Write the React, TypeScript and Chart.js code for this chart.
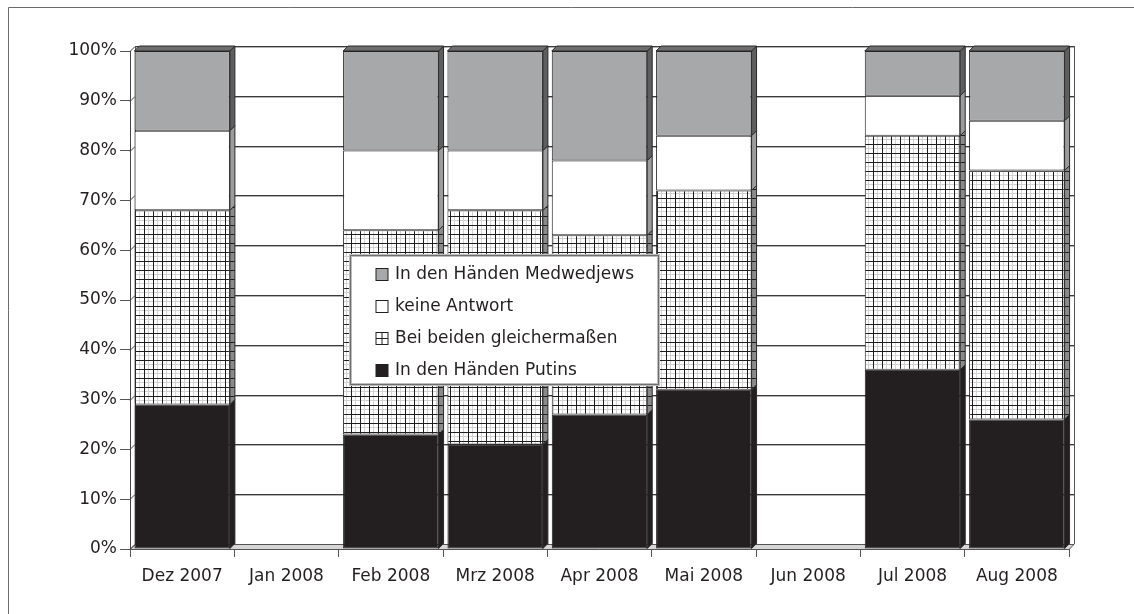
import React, { useEffect, useRef } from 'react';
import { Chart, registerables } from 'chart.js';

Chart.register(...registerables);

const categories = ['Dez 2007', 'Jan 2008', 'Feb 2008', 'Mrz 2008', 'Apr 2008', 'Mai 2008', 'Jun 2008', 'Jul 2008', 'Aug 2008'];
const putinValues = [29, null, 23, 21, 27, 32, null, 36, 26];
const beideValues = [39, null, 41, 47, 36, 40, null, 47, 50];
const keineValues = [16, null, 16, 12, 15, 11, null, 8, 10];
const medwedjewValues = [16, null, 20, 20, 22, 17, null, 9, 14];
const yTickLabels = ['0%', '10%', '20%', '30%', '40%', '50%', '60%', '70%', '80%', '90%', '100%'];
const seriesLabels = ['In den Händen Putins', 'Bei beiden gleichermaßen', 'keine Antwort', 'In den Händen Medwedjews'];

const FONT = "'DejaVu Sans', sans-serif";
const TEXT = '#231f20';
const DX = 5;
const DY = 5;

function makeGridPattern(ctx: CanvasRenderingContext2D, bg: string, light: boolean, vertical: boolean) {
  const t = document.createElement('canvas');
  t.width = 9;
  t.height = 9;
  const c = t.getContext('2d')!;
  c.fillStyle = bg;
  c.fillRect(0, 0, 9, 9);
  if (light) {
    c.fillStyle = '#d2d2d2';
    c.fillRect(4, 0, 1, 9);
    c.fillRect(0, 4, 9, 1);
  }
  c.fillStyle = '#1e1e1e';
  if (vertical) c.fillRect(0, 0, 1, 9);
  c.fillRect(0, 0, 9, 1);
  return ctx.createPattern(t, 'repeat')!;
}

export default function App() {
  const ref = useRef<HTMLCanvasElement>(null);

  useEffect(() => {
    document.body.style.margin = '0';
    document.body.style.overflow = 'hidden';
    const canvas = ref.current!;
    const ctx0 = canvas.getContext('2d')!;
    const gridPattern = makeGridPattern(ctx0, '#ffffff', true, true);
    const gridSidePattern = makeGridPattern(ctx0, '#8a8a8a', false, false);

    const fronts: any[] = ['#231f20', gridPattern, '#ffffff', '#a7a8aa'];
    const sides: any[] = ['#231f20', gridSidePattern, '#9c9c9c', '#5e5e5e'];
    const tops: any[] = ['#3a3a3a', '#8a8a8a', '#c8c8c8', '#6e6e6e'];

    const depthPlugin = {
      id: 'depth3d',
      beforeDatasetsDraw(chart: any) {
        const { ctx, chartArea: a } = chart;
        const y = chart.scales.y;
        ctx.save();
        ctx.lineWidth = 1;
        // floor
        ctx.beginPath();
        ctx.moveTo(a.left, a.bottom + 0.5);
        ctx.lineTo(a.right, a.bottom + 0.5);
        ctx.lineTo(a.right + DX, a.bottom - DY + 0.5);
        ctx.lineTo(a.left + DX, a.bottom - DY + 0.5);
        ctx.closePath();
        ctx.fillStyle = '#d6d6d6';
        ctx.fill();
        ctx.strokeStyle = '#555';
        ctx.stroke();
        // back wall gridlines
        y.ticks.forEach((t: any) => {
          const py = Math.round(y.getPixelForValue(t.value));
          if (t.value !== 0) {
            ctx.fillStyle = '#3a3a3a';
            ctx.fillRect(a.left + DX, py - DY, a.right - a.left, 1);
            ctx.fillStyle = '#b4b4b4';
            ctx.fillRect(a.left + DX, py - DY + 1, a.right - a.left, 1);
          }
          ctx.strokeStyle = '#444';
          ctx.beginPath();
          ctx.moveTo(a.left, py + 0.5);
          ctx.lineTo(a.left + DX, py - DY + 0.5);
          ctx.stroke();
        });
        // wall edges
        ctx.strokeStyle = '#555';
        ctx.beginPath();
        ctx.moveTo(a.left + DX + 0.5, a.top - DY);
        ctx.lineTo(a.left + DX + 0.5, a.bottom - DY);
        ctx.moveTo(a.right + DX + 0.5, a.top - DY);
        ctx.lineTo(a.right + DX + 0.5, a.bottom - DY);
        ctx.stroke();
        ctx.restore();
      },
      afterDatasetsDraw(chart: any) {
        const { ctx } = chart;
        const n = chart.data.labels.length;
        ctx.save();
        ctx.lineWidth = 1;
        ctx.strokeStyle = '#2a2a2a';
        for (let i = 0; i < n; i++) {
          let topDs = -1;
          chart.data.datasets.forEach((ds: any, d: number) => {
            if (ds.data[i] != null && ds.data[i] > 0) topDs = d;
          });
          chart.data.datasets.forEach((ds: any, d: number) => {
            if (ds.data[i] == null || !(ds.data[i] > 0)) return;
            const el = chart.getDatasetMeta(d).data[i];
            const R = el.x + el.width / 2;
            const L = el.x - el.width / 2;
            const top = el.y;
            const base = el.base;
            ctx.beginPath();
            ctx.moveTo(R, top);
            ctx.lineTo(R + DX, top - DY);
            ctx.lineTo(R + DX, base - DY);
            ctx.lineTo(R, base);
            ctx.closePath();
            ctx.fillStyle = sides[d];
            ctx.fill();
            ctx.stroke();
            if (d === topDs) {
              ctx.beginPath();
              ctx.moveTo(L, top);
              ctx.lineTo(L + DX, top - DY);
              ctx.lineTo(R + DX, top - DY);
              ctx.lineTo(R, top);
              ctx.closePath();
              ctx.fillStyle = tops[d];
              ctx.fill();
              ctx.stroke();
            }
          });
        }
        ctx.restore();
      },
      afterDraw(chart: any) {
        const { ctx, chartArea: a } = chart;
        ctx.save();
        // outer frame
        ctx.strokeStyle = '#6b6b6b';
        ctx.lineWidth = 1;
        ctx.beginPath();
        ctx.moveTo(8.5, chart.height);
        ctx.lineTo(8.5, 7.5);
        ctx.lineTo(chart.width, 7.5);
        ctx.stroke();

        // legend
        ctx.font = `17px ${FONT}`;
        const order = [3, 2, 1, 0];
        let maxW = 0;
        order.forEach((d) => {
          maxW = Math.max(maxW, ctx.measureText(seriesLabels[d]).width);
        });
        const bx = Math.round(a.left + 0.234 * (a.right - a.left)) + 0.5;
        const by = Math.round(a.top + 0.41 * (a.bottom - a.top)) + 0.5;
        const bw = Math.round(26 + 12 + 7 + maxW + 24);
        const rowH = 32;
        const bh = 18 + 3 * rowH + 15;
        ctx.fillStyle = '#ffffff';
        ctx.fillRect(bx, by, bw, bh);
        ctx.strokeStyle = '#bdbdbd';
        ctx.lineWidth = 3;
        ctx.strokeRect(bx, by, bw, bh);
        ctx.strokeStyle = '#6e6e6e';
        ctx.lineWidth = 1;
        ctx.strokeRect(bx, by, bw, bh);
        order.forEach((d, r) => {
          const cy = by + 18 + r * rowH;
          const mx = bx + 25.5;
          const my = Math.round(cy - 6) + 0.5;
          const ms = 12;
          ctx.fillStyle = d === 1 ? '#ffffff' : fronts[d];
          ctx.fillRect(mx, my, ms, ms);
          ctx.strokeStyle = '#231f20';
          ctx.lineWidth = 1;
          ctx.strokeRect(mx, my, ms, ms);
          if (d === 1) {
            ctx.beginPath();
            ctx.moveTo(mx + ms / 2, my);
            ctx.lineTo(mx + ms / 2, my + ms);
            ctx.moveTo(mx, my + ms / 2);
            ctx.lineTo(mx + ms, my + ms / 2);
            ctx.stroke();
          }
          ctx.fillStyle = TEXT;
          ctx.textBaseline = 'middle';
          ctx.textAlign = 'left';
          ctx.fillText(seriesLabels[d], mx + ms + 7, cy + 1);
        });
        ctx.restore();
      },
    };

    const seriesData = [putinValues, beideValues, keineValues, medwedjewValues];

    const chart = new Chart(canvas, {
      type: 'bar',
      data: {
        labels: categories,
        datasets: seriesData.map((vals, d) => ({
          label: seriesLabels[d],
          data: vals as any,
          backgroundColor: fronts[d],
          borderColor: '#231f20',
          borderWidth: 1,
          borderSkipped: false,
          barPercentage: 1,
          categoryPercentage: 0.915,
        })),
      },
      options: {
        responsive: false,
        devicePixelRatio: 1,
        animation: false,
        layout: { padding: { left: 0, right: 65, top: 51, bottom: 0 } },
        plugins: {
          legend: { display: false },
          tooltip: { enabled: false },
        },
        scales: {
          x: {
            stacked: true,
            grid: { display: true, drawOnChartArea: false, drawTicks: true, tickLength: 8, color: '#555', offset: true },
            border: { display: true, color: '#444' },
            ticks: { font: { family: FONT, size: 17 }, color: TEXT, padding: 9, maxRotation: 0, autoSkip: false },
            afterFit: (s: any) => {
              s.height = 65;
            },
          },
          y: {
            stacked: true,
            min: 0,
            max: 100,
            grid: { display: true, drawOnChartArea: false, drawTicks: true, tickLength: 10, color: '#555' },
            border: { display: true, color: '#444' },
            ticks: {
              stepSize: 10,
              font: { family: FONT, size: 17 },
              color: TEXT,
              padding: 3,
              callback: (_v: any, idx: number) => yTickLabels[idx],
            },
            afterFit: (s: any) => {
              s.width = 130;
            },
          },
        },
      },
      plugins: [depthPlugin],
    });

    return () => chart.destroy();
  }, []);

  return (
    <div style={{ width: 1134, height: 614, position: 'relative', background: '#fff' }}>
      <canvas ref={ref} width={1134} height={614} style={{ display: 'block', width: 1134, height: 614 }} />
    </div>
  );
}
